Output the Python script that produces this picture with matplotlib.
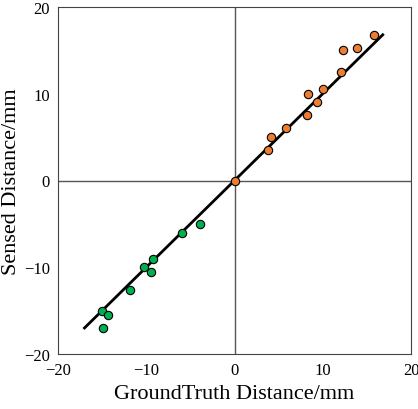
import matplotlib
matplotlib.use("Agg")
import matplotlib.pyplot as plt

plt.rcParams['font.family'] = ['Liberation Serif']

orange_x = [15.8, 13.9, 12.3, 12.1, 10.0, 9.3, 8.3, 8.2, 5.8, 4.1, 3.8, 0.0]
orange_y = [16.8, 15.3, 15.0, 12.5, 10.6, 9.0, 10.0, 7.6, 6.1, 5.0, 3.5, 0.0]
green_x = [-3.9, -5.9, -9.2, -10.3, -9.5, -11.8, -15.0, -14.3, -14.9]
green_y = [-5.0, -6.1, -9.0, -10.0, -10.6, -12.6, -15.1, -15.5, -17.0]
fit_x = [-17.0, 16.8]
fit_y = [-17.0, 16.8]

fig = plt.figure(figsize=(4.18, 4.10), dpi=100)
ax = fig.add_axes([58/418, 1-355/410, 353/418, 347/410])
ax.axhline(0, color='#555555', lw=1, zorder=1)
ax.axvline(0, color='#555555', lw=1, zorder=1)
ax.plot(fit_x, fit_y, color='black', lw=2, zorder=2)
ax.scatter(green_x, green_y, s=36, color='#00b050', edgecolors='black', linewidths=0.8, zorder=3)
ax.scatter(orange_x, orange_y, s=36, color='#ed7d31', edgecolors='black', linewidths=0.8, zorder=3)
ax.set_xlim(-20, 20)
ax.set_ylim(-20, 20)
ax.set_xticks([-20, -10, 0, 10, 20])
ax.set_yticks([-20, -10, 0, 10, 20])
ax.tick_params(length=0, labelsize=12, pad=6)
for s in ax.spines.values():
    s.set_color('#444444')
ax.set_xlabel('GroundTruth Distance/mm', fontsize=16, labelpad=4)
ax.set_ylabel('Sensed Distance/mm', fontsize=16, labelpad=2)
fig.savefig('out.png', dpi=100)
